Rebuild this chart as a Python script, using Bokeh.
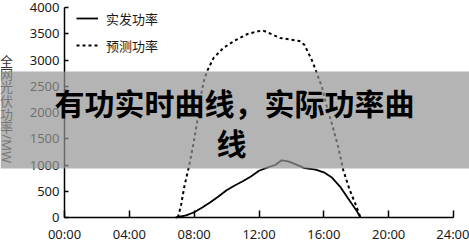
import math
from bokeh.plotting import figure
from bokeh.models import (Range1d, FixedTicker, Legend, LegendItem, BoxAnnotation, Label,
                          LinearAxis)
from bokeh.embed import file_html
from bokeh.resources import INLINE

# Time of day (hours) and grid-wide PV output (MW)
actual_hours = [6.85, 7.5, 8.0, 8.5, 9.0, 9.5, 10.0, 10.5, 11.0, 11.5, 12.0, 12.5,
                13.0, 13.4, 13.8, 14.2, 14.8, 15.5, 16.0, 16.5, 17.0, 17.5, 18.0, 18.26]
actual_mw = [0, 40, 100, 190, 290, 400, 520, 610, 690, 780, 890, 950,
             1000, 1090, 1070, 1020, 940, 910, 860, 760, 590, 360, 140, 0]

forecast_hours = [7.0, 7.2, 7.4, 7.7, 8.0, 8.2, 8.4, 8.6, 8.8, 9.2, 9.8, 10.5, 11.3,
                  12.0, 12.3, 12.8, 13.3, 13.9, 14.5, 14.8, 15.1, 15.3, 15.6, 15.9,
                  16.2, 16.5, 16.9, 17.2, 17.6, 17.95, 18.26]
forecast_mw = [0, 250, 600, 1000, 1480, 1850, 2300, 2600, 2790, 3040, 3230, 3370, 3495,
               3550, 3555, 3490, 3420, 3390, 3360, 3290, 3100, 2970, 2720, 2470,
               2090, 1780, 1330, 900, 520, 260, 0]

x_ticks = [0, 4, 8, 12, 16, 20, 24]
x_tick_labels = ["00:00", "04:00", "08:00", "12:00", "16:00", "20:00", "24:00"]
y_ticks = [0, 500, 1000, 1500, 2000, 2500, 3000, 3500, 4000]

series_names = ["实发功率", "预测功率"]
y_title_cjk = "全网光伏功率"
y_title_unit = "/MW"
banner_lines = ["有功实时曲线，实际功率曲", "线"]

W, H = 469, 241
num_font = "Noto Sans"
cjk_font = "Noto Sans CJK SC"

# The plotting area fills the whole canvas; axes sit at fixed data locations so
# the translucent banner and the side titles can cover the margins as well.
ax_left, ax_right = 64, 453      # pixel columns of 00:00 and 24:00
ax_bottom, ax_top = 217, 7       # pixel rows of 0 MW and 4000 MW
x_min, x_max = x_ticks[0], x_ticks[-1]
y_min, y_max = y_ticks[0], y_ticks[-1]
px_per_h = (ax_right - ax_left) / (x_max - x_min)
px_per_mw = (ax_bottom - ax_top) / (y_max - y_min)
x_range = Range1d(x_min - ax_left / px_per_h, x_max + (W - ax_right) / px_per_h)
y_range = Range1d(y_min - (H - ax_bottom) / px_per_mw, y_max + ax_top / px_per_mw)

p = figure(width=W, height=H, output_backend="svg", toolbar_location=None,
           x_range=x_range, y_range=y_range,
           x_axis_location=None, y_axis_location=None,
           min_border=0, min_border_left=0, min_border_right=0,
           min_border_top=0, min_border_bottom=0)
p.outline_line_color = None
p.xgrid.grid_line_color = None
p.ygrid.grid_line_color = None
p.background_fill_color = "white"
p.border_fill_color = "white"

xaxis = LinearAxis(fixed_location=y_min, bounds=(x_min, x_max),
                   ticker=FixedTicker(ticks=x_ticks),
                   major_label_overrides={t: s for t, s in zip(x_ticks, x_tick_labels)},
                   major_tick_in=7, major_label_standoff=7)
yaxis = LinearAxis(fixed_location=x_min, bounds=(y_min, y_max),
                   ticker=FixedTicker(ticks=y_ticks),
                   major_tick_in=4, major_label_standoff=5)
for ax in (xaxis, yaxis):
    ax.axis_line_color = "black"
    ax.axis_line_width = 1.5
    ax.major_tick_line_color = "black"
    ax.major_tick_line_width = 1.5
    ax.major_tick_out = 0
    ax.minor_tick_line_color = None
    ax.major_label_text_font = num_font
    ax.major_label_text_font_size = "13px"
    ax.major_label_text_color = "#1a1a1a"
p.add_layout(xaxis, "below")
p.add_layout(yaxis, "left")

r_actual = p.line(actual_hours, actual_mw, line_color="black", line_width=1.8)
r_fore = p.line(forecast_hours, forecast_mw, line_color="black", line_width=2,
                line_dash="3 3")

legend = Legend(items=[LegendItem(label=series_names[0], renderers=[r_actual]),
                       LegendItem(label=series_names[1], renderers=[r_fore])],
                location=(76, 186), border_line_color=None, background_fill_alpha=0,
                padding=0, margin=0, spacing=7, glyph_width=22, label_standoff=8,
                label_text_font=cjk_font, label_text_font_size="13px",
                label_text_color="#1a1a1a")
p.add_layout(legend)

# vertical axis title: upright CJK characters stacked, the unit turned sideways
title_x, title_top, char_step = 6, 60, 13.2
for i, ch in enumerate(y_title_cjk):
    p.add_layout(Label(x=title_x, y=title_top + i * char_step, x_units="canvas",
                       y_units="canvas", text=ch, text_font=cjk_font,
                       text_font_size="13px", text_color="#333333",
                       text_align="center", text_baseline="middle"))
p.add_layout(Label(x=title_x, y=title_top + len(y_title_cjk) * char_step + 9,
                   x_units="canvas", y_units="canvas", text=y_title_unit,
                   angle=-math.pi / 2, text_font=num_font, text_font_size="13px",
                   text_color="#333333", text_align="center", text_baseline="middle"))

# translucent grey banner across the whole chart
p.add_layout(BoxAnnotation(left=0, right=W, top=71, bottom=168,
                           left_units="canvas", right_units="canvas",
                           top_units="canvas", bottom_units="canvas",
                           fill_color="#949494", fill_alpha=0.7, line_color=None,
                           level="overlay"))

p.add_layout(Label(x=234, y=101, x_units="canvas", y_units="canvas", text=banner_lines[0],
                   text_font=cjk_font, text_font_style="bold", text_font_size="30px",
                   text_color="black", text_align="center", text_baseline="middle",
                   level="overlay"))
p.add_layout(Label(x=231, y=141, x_units="canvas", y_units="canvas", text=banner_lines[1],
                   text_font=cjk_font, text_font_style="bold", text_font_size="30px",
                   text_color="black", text_align="center", text_baseline="middle",
                   level="overlay"))

open("out.html", "w").write(file_html(p, INLINE))
